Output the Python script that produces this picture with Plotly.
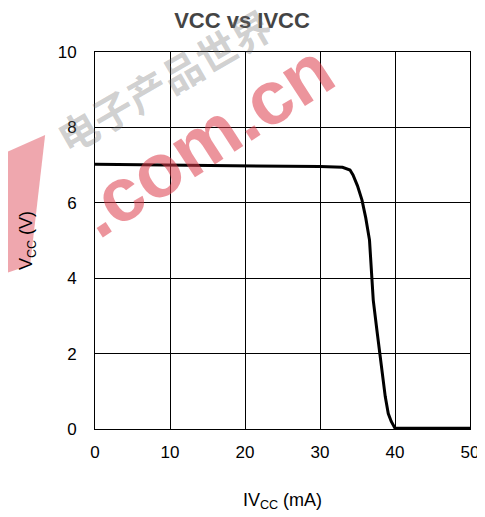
import plotly.graph_objects as go

# Data
ivcc_ma = [0, 5, 10, 15, 20, 25, 30, 33, 34, 34.4, 35.0, 35.6, 36.1, 36.6, 37.1, 37.6, 38.0, 38.4, 38.7, 39.1, 39.5, 40.0, 45, 50]
vcc_v = [7.02, 7.01, 7.0, 7.0, 6.99, 6.98, 6.96, 6.94, 6.87, 6.74, 6.45, 6.07, 5.6, 5.01, 3.42, 2.6, 1.92, 1.35, 0.86, 0.41, 0.2, 0.02, 0.02, 0.02]

x_ticks = [0, 10, 20, 30, 40, 50]
y_ticks = [0, 2, 4, 6, 8, 10]

FONT = "Arial, Liberation Sans, sans-serif"
RED = "rgba(220,60,75,0.55)"

fig = go.Figure()
fig.add_trace(go.Scatter(x=ivcc_ma, y=vcc_v, mode="lines",
                         line=dict(color="black", width=3), showlegend=False))

axis_common = dict(showline=True, linecolor="black", linewidth=1, mirror=True,
                   showgrid=True, gridcolor="black", gridwidth=1, zeroline=False,
                   automargin=False, ticks="",
                   tickfont=dict(family=FONT, size=17, color="black"))

fig.update_xaxes(range=[0, 50], tickvals=x_ticks, ticklabelstandoff=8,
                 title=dict(text="IV<sub>CC</sub> (mA)", standoff=31,
                            font=dict(family=FONT, size=18, color="black")),
                 **axis_common)
fig.update_yaxes(range=[0, 10], tickvals=y_ticks, ticklabelstandoff=14,
                 title=dict(text="V<sub>CC</sub> (V)", standoff=20,
                            font=dict(family=FONT, size=18, color="black")),
                 **axis_common)

# watermark
fig.add_shape(type="path", xref="paper", yref="paper", layer="above",
              path="M -0.253,0.727 L -0.133,0.780 L -0.173,0.435 L -0.253,0.408 Z",
              fillcolor="rgba(220,60,75,0.45)", line=dict(width=0))
fig.add_annotation(text="<b>.com.cn</b>", xref="paper", yref="paper", x=0.293, y=0.767,
                   xanchor="center", yanchor="middle",
                   showarrow=False, textangle=-33,
                   font=dict(family=FONT, size=76, color=RED))
fig.add_annotation(text="<b>电子产品世界</b>", xref="paper", yref="paper", x=0.185, y=0.925,
                   xanchor="center", yanchor="middle",
                   showarrow=False, textangle=-30,
                   font=dict(family="Noto Sans CJK SC", size=40, color="rgba(110,110,110,0.33)"))

fig.update_layout(
    width=477, height=509,
    margin=dict(l=87, r=15, t=44, b=88),
    paper_bgcolor="white", plot_bgcolor="white",
    title=dict(text="<b>VCC vs IVCC</b>", x=0.4906, xanchor="center", y=0.99, yanchor="top",
               font=dict(family=FONT, size=22, color="#444444")),
)

fig.write_html("out.html")
